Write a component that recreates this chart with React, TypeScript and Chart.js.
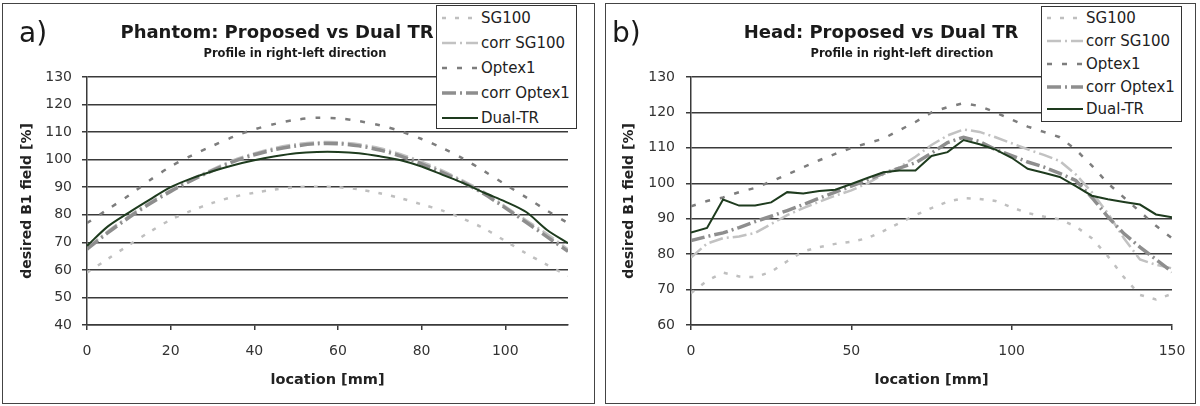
import React, { useEffect, useRef } from "react";
import { Chart, registerables } from "chart.js";

Chart.register(...registerables);

const FONT = "'DejaVu Sans', 'Liberation Sans', sans-serif";
const GRID = "#3a3a3a";

// ---------- Panel a) Phantom ----------
const xA = [0, 5, 10, 15, 20, 25, 30, 35, 40, 45, 50, 55, 60, 65, 70, 75, 80, 85, 90, 95, 100, 105, 110, 115];
const sg100A = [59, 64, 69, 73.8, 78.2, 81.5, 84.3, 86.5, 88, 89.2, 90, 90.2, 90, 89.2, 87.8, 86, 83.8, 81.5, 78.5, 75, 70.5, 66, 61.8, 57.8];
const corrSg100A = [68, 74, 79.5, 84.5, 89, 93, 96.5, 99.8, 102.3, 104.3, 105.6, 106.3, 106.3, 105.6, 104.2, 102, 99.3, 96, 92.3, 88.2, 83, 78, 73, 67.5];
const optex1A = [77, 82, 87, 92.5, 97.5, 101.5, 105, 108.3, 111, 113, 114.5, 115.2, 115, 114, 112.5, 110.3, 107.5, 104.2, 100.3, 95.8, 91, 86.3, 81.5, 77];
const corrOptex1A = [67.5, 73.5, 79, 84, 88.5, 92.5, 96, 99.3, 101.8, 103.7, 105, 105.8, 105.8, 105, 103.5, 101.3, 98.5, 95.3, 91.7, 87.5, 82.5, 77.3, 72, 66.7];
const dualTrA = [68.7, 75.8, 80.8, 85.5, 90, 93.2, 95.8, 98, 99.8, 101.2, 102.3, 102.8, 102.8, 102.3, 101.2, 99.8, 97.5, 94.5, 91.5, 88, 84.8, 81, 74.5, 69.7];
const xTicksA = [0, 20, 40, 60, 80, 100];
const yTicksA = [40, 50, 60, 70, 80, 90, 100, 110, 120, 130];

// ---------- Panel b) Head ----------
const xB = [0, 5, 10, 15, 20, 25, 30, 35, 40, 45, 50, 55, 60, 65, 70, 75, 80, 85, 90, 95, 100, 105, 110, 115, 120, 125, 130, 135, 140, 145, 150];
const sg100B = [69, 72.5, 74.8, 73.7, 73.5, 75, 78, 80.8, 82, 82.9, 83.5, 84.5, 86.5, 88.8, 91, 93, 94.8, 95.8, 95.6, 95, 93.2, 91.6, 90.6, 89.8, 87.8, 84.5, 79.4, 73.5, 68.5, 67.2, 68.8];
const corrSg100B = [79, 83, 84.5, 85, 86, 88.5, 91, 93, 94.8, 96.5, 98, 100, 102.5, 104.5, 107.5, 110.8, 113.5, 115.2, 114.5, 113, 111.3, 109.6, 108, 106.3, 102.5, 97.5, 91.5, 84.5, 78.5, 77, 76];
const optex1B = [93.5, 95, 96, 97.5, 98.7, 100.5, 102.5, 104.5, 106.5, 108.3, 110, 111.3, 112.6, 115, 117.3, 120, 121.5, 122.6, 121.8, 120, 118, 116, 114.5, 113, 109.5, 105, 100, 96, 92, 88, 84.5];
const corrOptex1B = [83.8, 85, 86, 87.5, 89.2, 90.7, 92.3, 94, 95.8, 97.5, 99.2, 101, 102.8, 104.3, 105.8, 108.5, 111.5, 113, 111.8, 109.5, 107.8, 106, 104.6, 102.8, 100.8, 96, 90.5, 85.8, 82, 78.5, 75];
const dualTrB = [86.1, 87.4, 95.4, 93.7, 93.7, 94.6, 97.5, 97.1, 97.8, 98.2, 99.8, 101.5, 103.1, 103.6, 103.6, 107.7, 108.8, 112.2, 111, 109.5, 107.2, 104.1, 103, 101.8, 99.2, 96.5, 95.5, 94.7, 94, 91.2, 90.4];
const xTicksB = [0, 50, 100, 150];
const yTicksB = [60, 70, 80, 90, 100, 110, 120, 130];

const seriesLabels = ["SG100", "corr SG100", "Optex1", "corr Optex1", "Dual-TR"];

type Style = { color: string; width: number; dash: number[]; order: number };
const STYLES: Style[] = [
  { color: "#bfbfbf", width: 2.5, dash: [4, 9], order: 4 },
  { color: "#c2c2c2", width: 2.5, dash: [14, 4, 2, 4], order: 3 },
  { color: "#7d7d7d", width: 2.5, dash: [5, 10], order: 2 },
  { color: "#8e8e8e", width: 3.5, dash: [14, 4, 2, 4], order: 1 },
  { color: "#1e3b1e", width: 2, dash: [], order: 0 },
];

type PanelProps = {
  left: number;
  xs: number[];
  values: number[][];
  xMax: number;
  yMin: number;
  yMax: number;
  xTicks: number[];
  yTicks: number[];
  yAxisW: number;
  padRight: number;
  yTitlePad: number;
  yTickPad: number;
  tension: number;
};

function PanelChart(p: PanelProps) {
  const ref = useRef<HTMLCanvasElement>(null);
  useEffect(() => {
    const chart = new Chart(ref.current as HTMLCanvasElement, {
      type: "line",
      data: {
        datasets: seriesLabels.map((label, i) => ({
          label,
          data: p.xs.map((x, j) => ({ x, y: p.values[i][j] })),
          borderColor: STYLES[i].color,
          borderWidth: STYLES[i].width,
          borderDash: STYLES[i].dash,
          pointRadius: 0,
          tension: p.tension,
          fill: false,
          order: STYLES[i].order,
        })),
      },
      options: {
        responsive: false,
        animation: false,
        layout: { padding: { left: 0, right: p.padRight, top: 77, bottom: 0 } },
        plugins: {
          legend: { display: false },
          tooltip: { enabled: false },
        },
        scales: {
          x: {
            type: "linear",
            min: 0,
            max: p.xMax,
            afterBuildTicks: (s: any) => {
              s.ticks = p.xTicks.map((v) => ({ value: v }));
            },
            afterFit: (s: any) => {
              s.height = 81;
            },
            grid: { drawOnChartArea: false, drawTicks: true, tickLength: 5, color: GRID, lineWidth: 1.5 },
            border: { display: true, color: GRID, width: 1.5 },
            ticks: { padding: 13, color: "#333", font: { family: FONT, size: 14 }, maxRotation: 0, autoSkip: false },
            title: {
              display: true,
              text: "location [mm]",
              color: "#222",
              font: { family: FONT, size: 14.5, weight: "bold" },
              padding: { top: 0, bottom: 17 },
            },
          },
          y: {
            type: "linear",
            min: p.yMin,
            max: p.yMax,
            afterBuildTicks: (s: any) => {
              s.ticks = p.yTicks.map((v) => ({ value: v }));
            },
            afterFit: (s: any) => {
              s.width = p.yAxisW;
            },
            grid: { drawOnChartArea: true, drawTicks: true, tickLength: 5, color: GRID, lineWidth: 1.5 },
            border: { display: true, color: GRID, width: 1.5 },
            ticks: { padding: p.yTickPad, color: "#333", font: { family: FONT, size: 14 }, autoSkip: false },
            title: {
              display: true,
              text: "desired B1 field [%]",
              color: "#222",
              font: { family: FONT, size: 14, weight: "bold" },
              padding: { top: p.yTitlePad, bottom: 0 },
            },
          },
        },
      },
    } as any);
    return () => chart.destroy();
  }, []);
  return (
    <canvas
      ref={ref}
      width={600}
      height={406}
      style={{ position: "absolute", left: p.left, top: 0, width: 600, height: 406 }}
    />
  );
}

function LegendSample({ i }: { i: number }) {
  const s = STYLES[i];
  return (
    <svg width={36} height={10} style={{ display: "block" }}>
      <line
        x1={0}
        y1={5}
        x2={36}
        y2={5}
        stroke={s.color}
        strokeWidth={s.width}
        strokeDasharray={s.dash.length ? s.dash.join(" ") : undefined}
      />
    </svg>
  );
}

function Legend({ x, y, w, h, firstRow, rowGap }: { x: number; y: number; w: number; h: number; firstRow: number; rowGap: number }) {
  return (
    <>
      <div
        style={{
          position: "absolute",
          left: x,
          top: y,
          width: w,
          height: h,
          boxSizing: "border-box",
          border: "1.5px solid #333",
          background: "#fff",
        }}
      />
      {seriesLabels.map((label, i) => {
        const cy = firstRow + i * rowGap;
        return (
          <div key={label}>
            <div style={{ position: "absolute", left: x + 6, top: cy - 5 }}>
              <LegendSample i={i} />
            </div>
            <div
              style={{
                position: "absolute",
                left: x + 45,
                top: cy - 10,
                height: 20,
                lineHeight: "20px",
                fontFamily: FONT,
                fontSize: 15,
                color: "#222",
                whiteSpace: "nowrap",
              }}
            >
              {label}
            </div>
          </div>
        );
      })}
    </>
  );
}

function Text({ cx, cy, size, bold, children, anchorLeft }: { cx: number; cy: number; size: number; bold?: boolean; children: string; anchorLeft?: boolean }) {
  return (
    <div
      style={{
        position: "absolute",
        left: cx,
        top: cy,
        transform: anchorLeft ? "translate(0,-50%)" : "translate(-50%,-50%)",
        fontFamily: FONT,
        fontSize: size,
        fontWeight: bold ? "bold" : "normal",
        color: "#1a1a1a",
        whiteSpace: "nowrap",
        lineHeight: 1.2,
      }}
    >
      {children}
    </div>
  );
}

export default function App() {
  return (
    <div style={{ position: "absolute", left: 0, top: 0, width: 1200, height: 406, background: "#fff", overflow: "hidden" }}>
      <div style={{ position: "absolute", left: 2, top: 3, width: 593, height: 401, boxSizing: "border-box", border: "1.5px solid #444" }} />
      <div style={{ position: "absolute", left: 605, top: 3, width: 591, height: 401, boxSizing: "border-box", border: "1.5px solid #444" }} />
      <PanelChart
        left={0}
        xs={xA}
        values={[sg100A, corrSg100A, optex1A, corrOptex1A, dualTrA]}
        xMax={115}
        yMin={40}
        yMax={130}
        xTicks={xTicksA}
        yTicks={yTicksA}
        yAxisW={87}
        padRight={32}
        yTitlePad={19}
        yTickPad={10}
        tension={0.3}
      />
      <PanelChart
        left={600}
        xs={xB}
        values={[sg100B, corrSg100B, optex1B, corrOptex1B, dualTrB]}
        xMax={150}
        yMin={60}
        yMax={130}
        xTicks={xTicksB}
        yTicks={yTicksB}
        yAxisW={91}
        padRight={28}
        yTitlePad={21}
        yTickPad={11}
        tension={0}
      />
      <Text cx={19} cy={33} size={28} anchorLeft>a)</Text>
      <Text cx={277} cy={32} size={18} bold>Phantom: Proposed vs Dual TR</Text>
      <Text cx={295} cy={54} size={11.5} bold>Profile in right-left direction</Text>
      <Text cx={612} cy={33} size={28} anchorLeft>b)</Text>
      <Text cx={881} cy={32} size={18} bold>Head: Proposed vs Dual TR</Text>
      <Text cx={902} cy={54} size={11.5} bold>Profile in right-left direction</Text>
      <Legend x={436} y={5} w={141} h={124} firstRow={18.3} rowGap={25} />
      <Legend x={1041} y={6} w={141} h={116} firstRow={18.3} rowGap={22.75} />
    </div>
  );
}
